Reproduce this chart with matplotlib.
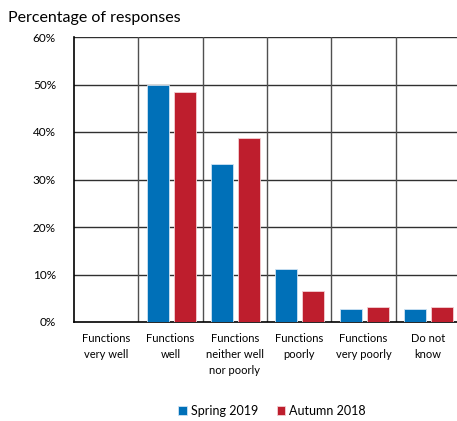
import numpy as np
from matplotlib import pyplot as plt

categories = ['Functions\nvery well', 'Functions\nwell', 'Functions\nneither well\nnor poorly',
              'Functions\npoorly', 'Functions\nvery poorly', 'Do not\nknow']
spring_2019 = [0, 50.0, 33.3, 11.1, 2.8, 2.8]
autumn_2018 = [0, 48.4, 38.7, 6.5, 3.2, 3.2]

plt.rcParams['font.family'] = ['Lato', 'DejaVu Sans']

fig = plt.figure(figsize=(4.57, 4.21), dpi=100)
ax = fig.add_axes([74 / 457, 1 - 322 / 421, 386 / 457, 285 / 421])

x = np.arange(len(categories)) + 0.5
ax.bar(x - 0.2, spring_2019, width=0.34, color='#0070b8', edgecolor='#cfe3f3',
       linewidth=0.6, label='Spring 2019', zorder=3)
ax.bar(x + 0.22, autumn_2018, width=0.34, color='#be1e2d', edgecolor='#f3d0d4',
       linewidth=0.6, label='Autumn 2018', zorder=3)

ax.set_xlim(0, 6)
ax.set_ylim(0, 60)
ax.set_yticks(range(0, 61, 10))
ax.set_yticklabels([f'{v}%' for v in range(0, 61, 10)], fontsize=8.5)
ax.set_xticks(x)
ax.set_xticklabels(categories, fontsize=8, linespacing=1.55)
ax.tick_params(axis='both', length=0)
ax.tick_params(axis='y', pad=13)
ax.tick_params(axis='x', pad=8)

# grid: horizontal at every 10%, vertical at category boundaries
for v in range(10, 61, 10):
    ax.axhline(v, color='#303030', linewidth=1, zorder=1)
for b in range(1, 6):
    ax.axvline(b, color='#505050', linewidth=1, zorder=1)

for s in ['top', 'right']:
    ax.spines[s].set_visible(False)
ax.spines['left'].set_linewidth(1.2)
ax.spines['bottom'].set_linewidth(1.2)

fig.text(8 / 457, 1 - 18 / 421, 'Percentage of responses', fontsize=11.5, va='center', ha='left')

fig.legend(loc='center', bbox_to_anchor=(272 / 457, 1 - 411 / 421), ncol=2, frameon=False,
           fontsize=9, handlelength=0.7, handleheight=0.7, handletextpad=0.3,
           columnspacing=1.5)

plt.savefig('out.png', dpi=100)
